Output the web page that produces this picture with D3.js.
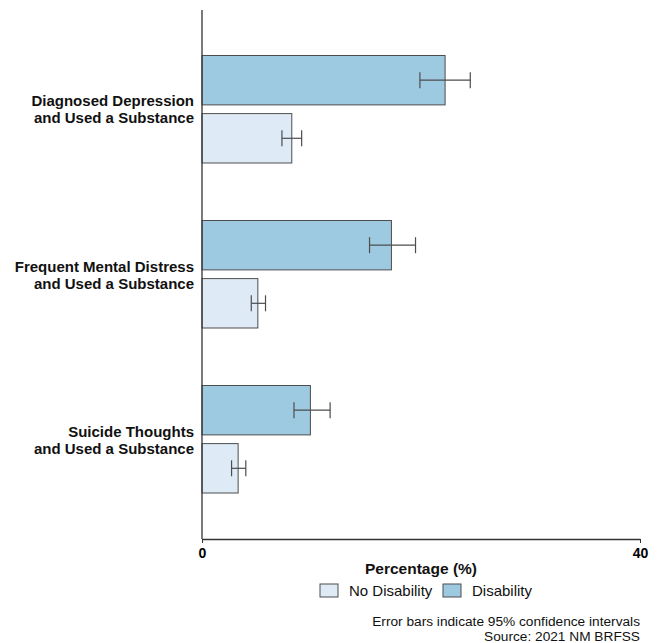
<!DOCTYPE html>
<html><head><meta charset="utf-8">
<script src="https://cdn.jsdelivr.net/npm/d3@7"></script>
<style>body{margin:0;background:#fff}svg{display:block;font-family:"Liberation Sans",Arial,sans-serif}</style>
</head><body><svg id="c" width="659" height="643"></svg>
<script>
const categories = [["Diagnosed Depression","and Used a Substance"],["Frequent Mental Distress","and Used a Substance"],["Suicide Thoughts","and Used a Substance"]];
const categoryKeys = ["dep","mental","suicide"];
const seriesNames = ["Disability","No Disability"];
const disability = [22.2, 17.3, 9.9];
const disabilityLow = [19.9, 15.3, 8.4];
const disabilityHigh = [24.5, 19.5, 11.7];
const noDisability = [8.2, 5.1, 3.3];
const noDisabilityLow = [7.3, 4.5, 2.7];
const noDisabilityHigh = [9.1, 5.8, 4.0];
const xTicks = [0, 40];
const legendOrder = ["No Disability","Disability"];
const colors = {"Disability":"#9ecae1","No Disability":"#deebf7"};

const svg = d3.select("#c");
const pL = 202, pR = 640, pT = 10, pB = 539;
const x = d3.scaleLinear().domain([0,40]).range([pL,pR]);
const y = d3.scaleBand().domain(categoryKeys).range([pT,pB]).paddingInner(0).paddingOuter(0.103);
const sub = d3.scaleBand().domain(seriesNames).range([28.5, 136]).paddingInner(0.15).paddingOuter(0);

const rows = [];
categoryKeys.forEach((k,i)=>{
  rows.push({k, s:"Disability", v:disability[i], lo:disabilityLow[i], hi:disabilityHigh[i]});
  rows.push({k, s:"No Disability", v:noDisability[i], lo:noDisabilityLow[i], hi:noDisabilityHigh[i]});
});

svg.selectAll("rect.bar").data(rows).join("rect").attr("class","bar")
  .attr("x", x(0)).attr("y", d=>y(d.k)+sub(d.s))
  .attr("width", d=>x(d.v)-x(0)).attr("height", sub.bandwidth())
  .attr("fill", d=>colors[d.s]).attr("stroke","#4d4d4d").attr("stroke-width",1);

const eb = svg.selectAll("g.eb").data(rows).join("g").attr("class","eb")
  .attr("stroke","#4d4d4d").attr("stroke-width",1.2);
const cy = d=>y(d.k)+sub(d.s)+sub.bandwidth()/2;
eb.append("line").attr("x1",d=>x(d.lo)).attr("x2",d=>x(d.hi)).attr("y1",cy).attr("y2",cy);
["lo","hi"].forEach(f=>{
  eb.append("line").attr("x1",d=>x(d[f])).attr("x2",d=>x(d[f]))
    .attr("y1",d=>cy(d)-8).attr("y2",d=>cy(d)+8);
});

// axes
const xAxis = svg.append("g").attr("transform",`translate(0,${pB})`)
  .call(d3.axisBottom(x).tickValues(xTicks).tickSize(4).tickSizeOuter(0).tickFormat(d3.format("d")));
xAxis.select(".domain").attr("stroke","#333").attr("stroke-width",1.3);
xAxis.selectAll(".tick line").attr("stroke","#333");
xAxis.selectAll(".tick text").attr("font-size",14).attr("font-weight","bold").attr("fill","#000").attr("dy","0.85em")
  .attr("font-family","Liberation Sans, Arial, sans-serif");

svg.append("line").attr("x1",pL).attr("x2",pL).attr("y1",pT).attr("y2",pB)
  .attr("stroke","#333").attr("stroke-width",1.3);

// category labels
const lab = svg.selectAll("text.cat").data(categoryKeys).join("text").attr("class","cat")
  .attr("text-anchor","end").attr("font-size",15).attr("font-weight","bold").attr("fill","#111");
lab.each(function(k,i){
  const c = y(k)+y.bandwidth()/2;
  const t = d3.select(this);
  t.append("tspan").attr("x",194).attr("y",c-3).text(categories[i][0]);
  t.append("tspan").attr("x",194).attr("y",c+14).text(categories[i][1]);
});

svg.append("text").attr("x",(pL+pR)/2).attr("y",574).attr("text-anchor","middle")
  .attr("font-size",15.5).attr("font-weight","bold").attr("fill","#111").text("Percentage (%)");

// legend
const legX = [320, 443];
const lg = svg.selectAll("g.leg").data(legendOrder).join("g").attr("class","leg")
  .attr("transform",(d,i)=>`translate(${legX[i]},584)`);
lg.append("rect").attr("width",18).attr("height",13).attr("fill",d=>colors[d]).attr("stroke","#4d4d4d");
lg.append("text").attr("x",29).attr("y",12).attr("font-size",15).attr("fill","#111").text(d=>d);

svg.append("text").attr("x",640).attr("y",626).attr("text-anchor","end").attr("font-size",13.7).attr("fill","#111")
  .text("Error bars indicate 95% confidence intervals");
svg.append("text").attr("x",640).attr("y",641).attr("text-anchor","end").attr("font-size",13.7).attr("fill","#111")
  .text("Source: 2021 NM BRFSS");
</script></body></html>
